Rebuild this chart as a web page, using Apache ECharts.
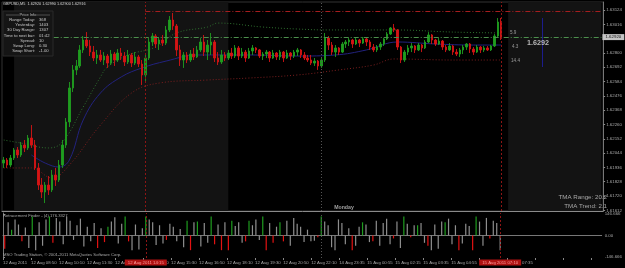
<!DOCTYPE html>
<html><head><meta charset="utf-8">
<script src="https://cdn.jsdelivr.net/npm/echarts@6/dist/echarts.min.js"></script>
<style>html,body{margin:0;padding:0;background:#000;}#c{width:625px;height:268px;}</style>
</head><body><div id="c"></div>
<script>
// [open, close, low, high]
const ohlc = [
[1.61969,1.61992,1.61932,1.62015],[1.61992,1.61954,1.61932,1.62007],[1.61954,1.62007,1.61939,1.62030],[1.62007,1.62068,1.61992,1.62083],
[1.62068,1.62030,1.62007,1.62090],[1.62030,1.62105,1.62015,1.62128],[1.62105,1.62083,1.62052,1.62143],[1.62083,1.62158,1.62068,1.62181],
[1.62158,1.62105,1.62083,1.62256],[1.62105,1.61932,1.61917,1.62143],[1.61932,1.61803,1.61766,1.61969],[1.61803,1.61750,1.61705,1.61856],
[1.61750,1.61803,1.61667,1.61826],[1.61803,1.61766,1.61728,1.61871],[1.61766,1.61879,1.61750,1.61917],[1.61879,1.61841,1.61796,1.61932],
[1.61841,1.61954,1.61826,1.61992],[1.61954,1.62105,1.61932,1.62143],[1.62105,1.62279,1.62083,1.62309],[1.62279,1.62536,1.62241,1.62581],
[1.62536,1.62672,1.62505,1.62709],[1.62672,1.62702,1.62634,1.62747],[1.62702,1.62823,1.62687,1.62860],[1.62823,1.62898,1.62800,1.62928],
[1.62898,1.62853,1.62838,1.62958],[1.62853,1.62807,1.62777,1.62898],[1.62807,1.62762,1.62739,1.62853],[1.62762,1.62785,1.62717,1.62823],
[1.62785,1.62747,1.62732,1.62823],[1.62747,1.62777,1.62709,1.62807],[1.62777,1.62724,1.62687,1.62792],[1.62724,1.62792,1.62709,1.62823],
[1.62792,1.62747,1.62702,1.62807],[1.62747,1.62800,1.62732,1.62830],[1.62800,1.62777,1.62747,1.62838],[1.62777,1.62732,1.62702,1.62807],
[1.62732,1.62785,1.62717,1.62823],[1.62785,1.62724,1.62694,1.62800],[1.62724,1.62770,1.62709,1.62807],[1.62770,1.62717,1.62694,1.62785],
[1.62717,1.62634,1.62558,1.62747],[1.62634,1.62762,1.62581,1.62785],[1.62762,1.62883,1.62747,1.62913],[1.62883,1.62928,1.62853,1.62951],
[1.62928,1.62868,1.62838,1.62943],[1.62868,1.62898,1.62823,1.62921],[1.62898,1.62875,1.62853,1.62936],[1.62875,1.62974,1.62860,1.63004],
[1.62974,1.63049,1.62958,1.63079],[1.63049,1.63004,1.62974,1.63102],[1.63004,1.62823,1.62777,1.63019],[1.62823,1.62747,1.62702,1.62860],
[1.62747,1.62785,1.62687,1.62807],[1.62785,1.62747,1.62724,1.62807],[1.62747,1.62792,1.62732,1.62823],[1.62792,1.62770,1.62747,1.62838],
[1.62770,1.62823,1.62762,1.62853],[1.62823,1.62883,1.62807,1.62913],[1.62883,1.62807,1.62777,1.62936],[1.62807,1.62860,1.62747,1.62898],
[1.62860,1.62883,1.62785,1.62951],[1.62883,1.62762,1.62732,1.62898],[1.62762,1.62732,1.62709,1.62807],[1.62732,1.62785,1.62717,1.62823],
[1.62785,1.62762,1.62739,1.62807],[1.62762,1.62800,1.62747,1.62823],[1.62800,1.62777,1.62755,1.62838],[1.62777,1.62838,1.62762,1.62860],
[1.62838,1.62777,1.62747,1.62853],[1.62777,1.62807,1.62762,1.62838],[1.62807,1.62762,1.62732,1.62823],[1.62762,1.62815,1.62755,1.62838],
[1.62815,1.62838,1.62785,1.62860],[1.62838,1.62823,1.62800,1.62845],[1.62823,1.62777,1.62762,1.62830],[1.62777,1.62792,1.62747,1.62807],
[1.62792,1.62807,1.62762,1.62823],[1.62807,1.62762,1.62732,1.62815],[1.62762,1.62800,1.62755,1.62823],[1.62800,1.62770,1.62747,1.62807],
[1.62770,1.62807,1.62747,1.62823],[1.62807,1.62762,1.62732,1.62815],[1.62762,1.62800,1.62755,1.62823],[1.62800,1.62777,1.62747,1.62807],
[1.62777,1.62807,1.62762,1.62823],[1.62807,1.62823,1.62777,1.62838],[1.62823,1.62785,1.62762,1.62830],[1.62785,1.62762,1.62747,1.62807],
[1.62762,1.62747,1.62732,1.62785],[1.62747,1.62724,1.62709,1.62785],[1.62724,1.62739,1.62702,1.62762],[1.62739,1.62702,1.62672,1.62747],
[1.62702,1.62747,1.62687,1.62762],[1.62747,1.62913,1.62732,1.62951],[1.62913,1.62860,1.62823,1.62928],[1.62860,1.62807,1.62785,1.62883],
[1.62807,1.62838,1.62770,1.62860],[1.62838,1.62807,1.62785,1.62845],[1.62807,1.62868,1.62800,1.62883],[1.62868,1.62883,1.62838,1.62898],
[1.62883,1.62898,1.62853,1.62913],[1.62898,1.62868,1.62838,1.62906],[1.62868,1.62898,1.62860,1.62913],[1.62898,1.62875,1.62845,1.62906],
[1.62875,1.62906,1.62868,1.62921],[1.62906,1.62883,1.62853,1.62913],[1.62883,1.62845,1.62823,1.62898],[1.62845,1.62823,1.62807,1.62868],
[1.62823,1.62845,1.62807,1.62860],[1.62845,1.62868,1.62823,1.62883],[1.62868,1.62906,1.62853,1.62913],[1.62906,1.62943,1.62898,1.62958],
[1.62943,1.62989,1.62936,1.62996],[1.62989,1.62974,1.62958,1.63019],[1.62974,1.62845,1.62823,1.62981],[1.62845,1.62747,1.62724,1.62853],
[1.62747,1.62807,1.62732,1.62823],[1.62807,1.62838,1.62785,1.62860],[1.62838,1.62853,1.62807,1.62875],[1.62853,1.62823,1.62800,1.62860],
[1.62823,1.62860,1.62815,1.62875],[1.62860,1.62838,1.62807,1.62868],[1.62838,1.62883,1.62830,1.62898],[1.62883,1.62936,1.62875,1.62958],
[1.62936,1.62898,1.62868,1.62943],[1.62898,1.62868,1.62853,1.62906],[1.62868,1.62890,1.62860,1.62913],[1.62890,1.62845,1.62823,1.62898],
[1.62845,1.62823,1.62807,1.62860],[1.62823,1.62853,1.62815,1.62875],[1.62853,1.62807,1.62785,1.62860],[1.62807,1.62792,1.62777,1.62830],
[1.62792,1.62823,1.62770,1.62838],[1.62823,1.62845,1.62792,1.62860],[1.62845,1.62868,1.62823,1.62875],[1.62868,1.62830,1.62800,1.62875],
[1.62830,1.62807,1.62785,1.62845],[1.62807,1.62845,1.62800,1.62860],[1.62845,1.62823,1.62800,1.62853],[1.62823,1.62838,1.62807,1.62853],
[1.62838,1.62823,1.62815,1.62853],[1.62823,1.62853,1.62815,1.62860],[1.62853,1.62928,1.62845,1.62943],[1.62928,1.63034,1.62921,1.63064],
[1.63034,1.62916,1.62898,1.63064]
];
// TMA bands: [bar index, price]
const upperBand = [[0,1.62143],[5,1.62120],[13,1.62083],[17,1.62128],[23,1.62392],[28,1.62619],[30,1.62694],[36,1.62785],[44,1.62845],[50,1.62951],[59,1.62996],[62,1.63026],[75,1.62996],[85,1.62981],[94,1.62974],[113,1.62974],[130,1.62958],[144,1.62951]];
const midLine = [[8,1.62030],[12,1.61969],[16,1.61939],[19,1.61992],[23,1.62294],[28,1.62498],[34,1.62619],[40,1.62687],[47,1.62739],[56,1.62785],[71,1.62785],[85,1.62777],[96,1.62785],[105,1.62823],[114,1.62883],[125,1.62868],[136,1.62860],[144,1.62860]];
const lowerBand = [[0,1.61932],[8,1.61932],[14,1.61856],[19,1.61954],[28,1.62256],[37,1.62498],[45,1.62573],[59,1.62596],[71,1.62611],[85,1.62634],[97,1.62672],[107,1.62709],[113,1.62755],[130,1.62747],[144,1.62747]];
// Retracement Finder histogram
const histValues = [-90,90,40,110,75,-40,55,-85,130,-100,90,-70,110,130,-50,120,95,-60,130,100,-30,70,115,-75,60,-40,85,-85,50,-45,
60,95,125,-55,80,130,-40,-100,75,-95,50,130,110,90,-65,70,-55,-30,80,60,-40,45,-80,100,-100,90,95,-75,85,-50,
130,-60,75,-100,90,-100,100,65,90,-50,-40,100,70,110,-30,130,-100,85,-50,60,90,-40,100,-70,120,80,60,-45,40,-40,
-35,-12,130,95,70,-80,-100,110,85,-60,50,-100,-70,60,90,75,-45,-40,100,-70,85,115,-60,-20,95,-85,130,80,-12,70,
70,85,-50,-70,-100,75,-90,95,90,115,-60,70,-100,-55,80,65,-100,130,95,-70,120,-20,100,85,-100];
const histTone = ['r','n','g','n','n','r','n','n','g','n','n','n','n','g','r','n','n','n','n','n','n','n','n','n','n','n','n','r','n','r',
'g','n','n','n','n','g','r','n','n','n','n','g','n','n','n','n','n','r','n','n','n','n','n','g','r','n','g','n','n','n',
'g','r','n','r','n','r','g','n','n','n','r','g','n','n','n','g','r','n','r','n','g','r','n','n','n','n','n','n','n','n',
'n','r','g','n','n','n','n','n','n','n','n','r','n','n','g','n','n','r','n','n','n','n','n','r','n','n','g','n','r','n',
'g','n','n','r','n','n','n','n','g','n','n','n','r','n','n','n','r','g','n','n','n','r','n','n','n'];
const priceTicks = [1.61612,1.61720,1.61828,1.61936,1.62044,1.62152,1.62260,1.62368,1.62476,1.62584,1.62692,1.62800,1.63016,1.63124];
const indTicks = [146.666, 0, -146.666];
const indTickLabels = ['146.666', '0.00', '-146.666'];
const timeLabels = ['12 Aug 2011','12 Aug 08:50','12 Aug 10:10','12 Aug 11:30','12 Aug 12:50','12 Aug 14:10','12 Aug 15:30','12 Aug 16:50','12 Aug 18:10','12 Aug 19:30','12 Aug 20:50','12 Aug 22:10','14 Aug 23:35','15 Aug 00:55','15 Aug 02:15','15 Aug 03:35','15 Aug 04:55','15 Aug 06:15','15 Aug 07:35'];
const bidPrice = 1.62920;
const highLinePrice = 1.63118;
const infoLabels = ['Range Today:','Yesterday:','30 Day Range:','Time to next bar:','Spread:','Swap Long:','Swap Short:'];
const infoValues = ['368','1403','1307','01:42','10','0.30','-1.00'];

const SLOTS = 174;
const cats = Array.from({length: SLOTS}, (_, i) => String(i));
const FONT = 'Liberation Sans Narrow, Liberation Sans, Arial, sans-serif';
const toneColor = {n: '#8e8e8e', g: '#1f9d1f', r: '#e31212'};

const chart = echarts.init(document.getElementById('c'), null, {renderer: 'canvas'});

const infoGraphics = [];
infoGraphics.push({type:'rect', z:100, shape:{x:3,y:11,width:50,height:45}, style:{fill:'#151515', stroke:'#2a2a2a', lineWidth:1}});
infoGraphics.push({type:'text', z:101, x:28, y:15, style:{text:'Price Info', fill:'#bbb', fontSize:4, fontFamily:FONT, align:'center', verticalAlign:'middle'}});
infoGraphics.push({type:'line', z:101, shape:{x1:6,y1:15,x2:19,y2:15}, style:{stroke:'#777', lineWidth:0.6}});
infoGraphics.push({type:'line', z:101, shape:{x1:37,y1:15,x2:50,y2:15}, style:{stroke:'#777', lineWidth:0.6}});
infoLabels.forEach((t, k) => {
  const yy = 20 + k * 5.15;
  infoGraphics.push({type:'text', z:101, x:35, y:yy, style:{text:t, fill:'#c8c8c8', fontSize:4.2, fontFamily:FONT, align:'right', verticalAlign:'middle'}});
  infoGraphics.push({type:'text', z:101, x:39, y:yy, style:{text:infoValues[k], fill:'#c8c8c8', fontSize:4.2, fontFamily:FONT, align:'left', verticalAlign:'middle'}});
});

const mainLines = {silent:true, symbol:['none','none'], z:6, label:{show:false},
  data:[
    [{coord:[0, bidPrice], lineStyle:{color:'#4c8f4c', width:1, type:[5,2,1,2]},
      label:{show:true, position:'end', distance:1, formatter:'1.62920', backgroundColor:'#c4c4c4', color:'#111', fontSize:4.4, padding:[1,3]}},
     {coord:[SLOTS - 1, bidPrice]}],
    [{coord:[41, highLinePrice], lineStyle:{color:'#a51e1e', width:1, type:[5,2,1,2]}}, {coord:[SLOTS - 1, highLinePrice]}],
    {xAxis:41, lineStyle:{color:'#8c1515', width:1, type:[2,2]}},
    {xAxis:144, lineStyle:{color:'#8c1515', width:1, type:[2,2]}},
    {xAxis:92, lineStyle:{color:'#555', width:1, type:[1,2]}},
    [{coord:[156, 1.63064], lineStyle:{color:'#1c1c8c', width:1, type:'solid'}}, {coord:[156, 1.62694]}]
  ]};

const option = {
  backgroundColor: '#000',
  animation: false,
  textStyle: {fontFamily: FONT},
  grid: [
    {left: 2, right: 15, top: 2, height: 209, show: true, borderColor: '#333', borderWidth: 1, backgroundColor: 'transparent'},
    {left: 2, right: 15, top: 213, height: 45}
  ],
  xAxis: [
    {type:'category', gridIndex:0, data:cats, boundaryGap:true, axisLabel:{show:false}, axisTick:{show:false}, axisLine:{show:true, lineStyle:{color:'#8a8a8a'}}, splitLine:{show:false}},
    {type:'category', gridIndex:1, data:cats, boundaryGap:true, axisLabel:{show:false}, axisTick:{show:false}, axisLine:{show:true, lineStyle:{color:'#777'}}, splitLine:{show:false}},
    {type:'value', gridIndex:1, min:0, max:608/28.45, interval:1, position:'bottom',
     axisLine:{show:false}, splitLine:{show:false},
     axisTick:{show:true, length:2, lineStyle:{color:'#888'}},
     axisLabel:{show:true, color:'#a8a8a8', fontSize:4.3, margin:3, align:'left', showMaxLabel:false,
       formatter: v => { const k = Math.round(v); return Math.abs(v-k) < 1e-6 && timeLabels[k] ? timeLabels[k] : ''; }}}
  ],
  yAxis: [
    {type:'value', gridIndex:0, position:'right', min:1.61607, max:1.63185,
     axisLine:{show:true, lineStyle:{color:'#777'}}, splitLine:{show:false},
     axisTick:{show:true, length:2, customValues:priceTicks, lineStyle:{color:'#888'}},
     axisLabel:{show:true, customValues:priceTicks, formatter: v => v.toFixed(5), color:'#a8a8a8', fontSize:4.4, margin:3}},
    {type:'value', gridIndex:1, position:'right', min:-153.5, max:153.5,
     axisLine:{show:true, lineStyle:{color:'#777'}}, splitLine:{show:false},
     axisTick:{show:true, length:2, customValues:indTicks, lineStyle:{color:'#888'}},
     axisLabel:{show:true, customValues:indTicks, color:'#a8a8a8', fontSize:4.4, margin:3,
       formatter: v => { const k = indTicks.findIndex(t => Math.abs(t - v) < 1e-6); return k >= 0 ? indTickLabels[k] : ''; }}}
  ],
  series: [
    {name:'shade', type:'line', xAxisIndex:0, yAxisIndex:0, data:[], z:1, silent:true,
     markArea:{silent:true, itemStyle:{color:'#131313'}, data:[[{xAxis:3},{xAxis:65}],[{xAxis:146},{xAxis:173}]]}},
    {name:'upper', type:'line', xAxisIndex:0, yAxisIndex:0, data:upperBand, smooth:0.4, symbol:'none', z:2,
     lineStyle:{color:'#2e6e2e', width:1, type:[1,2]}, markLine: mainLines},
    {name:'lower', type:'line', xAxisIndex:0, yAxisIndex:0, data:lowerBand, smooth:0.4, symbol:'none', z:2,
     lineStyle:{color:'#7c1e1e', width:1, type:[1,2]}},
    {name:'mid', type:'line', xAxisIndex:0, yAxisIndex:0, data:midLine, smooth:0.4, symbol:'none', z:2,
     lineStyle:{color:'#22227e', width:1}},
    {name:'candles', type:'candlestick', xAxisIndex:0, yAxisIndex:0, data:ohlc, barWidth:2, z:3,
     itemStyle:{color:'#1f9d1f', color0:'#d51414', borderColor:'#1f9d1f', borderColor0:'#d51414', borderWidth:0.9}},
    {name:'retracement', type:'bar', xAxisIndex:1, yAxisIndex:1, barWidth:1.2, z:3,
     data: histValues.map((v, i) => ({value:v, itemStyle:{color: toneColor[histTone[i]]}})),
     markLine:{silent:true, symbol:['none','none'], z:10, label:{show:false},
       data:[
         {xAxis:41, lineStyle:{color:'#8c1515', width:1, type:[2,2]},
          label:{show:true, position:'start', distance:1.5, formatter:'12 Aug 2011 14:15', backgroundColor:'#b01212', color:'#ff9c9c', fontSize:4.3, padding:[1,3]}},
         {xAxis:144, lineStyle:{color:'#8c1515', width:1, type:[2,2]},
          label:{show:true, position:'start', distance:1.5, formatter:'15 Aug 2011 07:10', backgroundColor:'#b01212', color:'#ff9c9c', fontSize:4.3, padding:[1,3]}},
         {xAxis:92, lineStyle:{color:'#555', width:1, type:[1,2]}}
       ]}}
  ],
  graphic: [
    {type:'text', z:100, x:3, y:4, style:{text:'GBPUSD,M5  1.62920 1.62990 1.62900 1.62916', fill:'#d8d8d8', fontSize:3.8, fontFamily:FONT, verticalAlign:'middle'}},
    ...infoGraphics,
    {type:'text', z:100, x:344, y:207.5, style:{text:'Monday', fill:'#a0a0a0', fontSize:5.2, fontWeight:'bold', fontFamily:FONT, align:'center', verticalAlign:'middle'}},
    {type:'text', z:100, x:607, y:197, style:{text:'TMA Range: 20.2', fill:'#a8a8a8', fontSize:6.2, fontFamily:FONT, align:'right', verticalAlign:'middle'}},
    {type:'text', z:100, x:607, y:206, style:{text:'TMA Trend: 2.1', fill:'#a8a8a8', fontSize:6.2, fontFamily:FONT, align:'right', verticalAlign:'middle'}},
    {type:'text', z:100, x:510, y:33, style:{text:'5.9', fill:'#9a9a9a', fontSize:4.6, fontFamily:FONT, verticalAlign:'middle'}},
    {type:'text', z:100, x:512, y:47, style:{text:'4.3', fill:'#9a9a9a', fontSize:4.6, fontFamily:FONT, verticalAlign:'middle'}},
    {type:'text', z:100, x:511, y:61, style:{text:'14.4', fill:'#9a9a9a', fontSize:4.6, fontFamily:FONT, verticalAlign:'middle'}},
    {type:'text', z:100, x:527, y:43, style:{text:'1.6292', fill:'#b8b8b8', fontSize:7.2, fontWeight:'bold', fontFamily:FONT, verticalAlign:'middle'}},
    {type:'text', z:100, x:3, y:215.5, style:{text:'Retracement Finder - (4) 176.3327', fill:'#a8a8a8', fontSize:4.2, fontFamily:FONT, verticalAlign:'middle'}},
    {type:'text', z:100, x:3, y:254.5, style:{text:'MSO Trading Station, © 2001-2011 MetaQuotes Software Corp.', fill:'#a8a8a8', fontSize:4.2, fontFamily:FONT, verticalAlign:'middle'}}
  ]
};
chart.setOption(option);
</script>
</body></html>
